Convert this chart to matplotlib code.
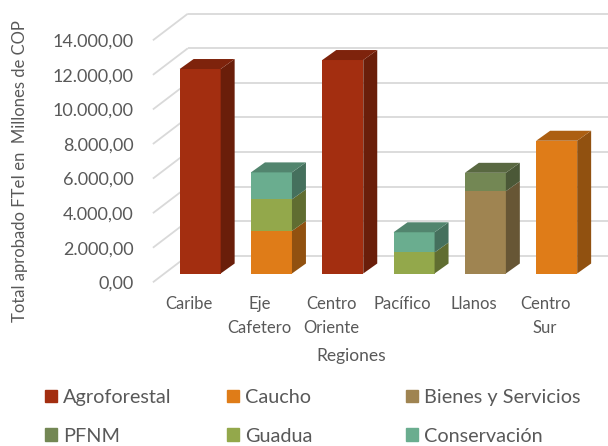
import matplotlib
matplotlib.use("Agg")
import matplotlib.pyplot as plt
from matplotlib.patches import Polygon, Patch
from matplotlib.colors import to_rgb

plt.rcParams["font.family"] = ["Lato", "DejaVu Sans"]

# datos (millones de COP)
regiones = ["Caribe", "Eje\nCafetero", "Centro\nOriente", "Pacífico", "Llanos", "Centro\nSur"]
series = ["Agroforestal", "Caucho", "Bienes y Servicios", "PFNM", "Guadua", "Conservación"]
agroforestal = [11830, 0, 12350, 0, 0, 0]
caucho       = [0, 2460, 0, 0, 0, 7680]
bienes       = [0, 0, 0, 0, 4760, 0]
pfnm         = [0, 0, 0, 0, 1065, 0]
guadua       = [0, 1830, 0, 1215, 0, 0]
conservacion = [0, 1560, 0, 1170, 0, 0]
y_ticks = [0, 2000, 4000, 6000, 8000, 10000, 12000, 14000]

valores = [agroforestal, caucho, bienes, pfnm, guadua, conservacion]
colores = ["#A32E10", "#DF7C18", "#9F8451", "#738754", "#93A84B", "#6AAD8F"]
TXT = "#595959"
GRID = "#D9D9D9"

# geometría pseudo-3D (unidades de datos)
DX, DY = 0.49, 1539       # profundidad total del suelo
FX, FY = 0.163, 509       # desplazamiento del frente de la barra
BX, BY = 0.196, 578       # profundidad de la barra
W = 0.575


def shade(c, f):
    r, g, b = to_rgb(c)
    return (r * f, g * f, b * f)


fig = plt.figure(figsize=(6.08, 4.46), dpi=100)
ax = fig.add_axes([152.9 / 608, 163.7 / 446, 427.8 / 608, 242 / 446])
ax.set_xlim(-0.5, 5.5)
ax.set_ylim(0, 14000)
for s in ax.spines.values():
    s.set_visible(False)

# rejilla: pared del fondo + diagonales laterales
for v in y_ticks:
    ax.plot([-0.5, -0.5 + DX], [v, v + DY], color=GRID, lw=1.3,
            clip_on=False, zorder=1, solid_capstyle="butt")
    ax.plot([-0.5 + DX, 5.5 + DX + 0.5], [v + DY, v + DY], color=GRID, lw=1.3,
            clip_on=False, zorder=1, solid_capstyle="butt")

# barras apiladas
for i in range(len(regiones)):
    base = 0
    segs = [(vals[i], col) for vals, col in zip(valores, colores) if vals[i] > 0]
    for k, (v, col) in enumerate(segs):
        x0 = i - W / 2 + FX
        y0 = base + FY
        ax.bar(x0, v, width=W, bottom=y0, align="edge", color=col,
               zorder=3, clip_on=False, lw=0)
        xr = x0 + W
        side = [(xr, y0), (xr + BX, y0 + BY), (xr + BX, y0 + v + BY), (xr, y0 + v)]
        ax.add_patch(Polygon(side, closed=True, fc=shade(col, 0.65), lw=0,
                             zorder=3, clip_on=False))
        if k == len(segs) - 1:
            yt = y0 + v
            top = [(x0, yt), (xr, yt), (xr + BX, yt + BY), (x0 + BX, yt + BY)]
            ax.add_patch(Polygon(top, closed=True, fc=shade(col, 0.77), lw=0,
                                 zorder=3, clip_on=False))
        base += v

# ejes
ax.set_yticks(y_ticks)
ax.set_yticklabels([f"{v:,.2f}".replace(",", "X").replace(".", ",").replace("X", ".")
                    for v in y_ticks])
ax.set_xticks(range(len(regiones)))
ax.set_xticklabels(regiones, linespacing=1.6)
ax.tick_params(axis="y", length=0, pad=14, labelsize=13, labelcolor=TXT)
ax.tick_params(axis="x", length=0, pad=10, labelsize=12, labelcolor=TXT)

ax.set_ylabel("Total aprobado FTeI en  Millones de COP", fontsize=12, color=TXT)
ax.yaxis.set_label_coords(-0.292, 0.46)
ax.set_xlabel("Regiones", fontsize=12.5, color=TXT)
ax.xaxis.set_label_coords(0.463, -0.272)

# leyenda en tres columnas
cols = [(0, 3), (1, 4), (2, 5)]
xs = [45, 227, 406]
for (a, b), xp in zip(cols, xs):
    hs = [Patch(color=colores[a]), Patch(color=colores[b])]
    fig.legend(hs, [series[a], series[b]], loc="upper left",
               bbox_to_anchor=(xp / 608, 1 - 389 / 446), frameon=False,
               fontsize=14.3, labelcolor=TXT, handlelength=0.62, handleheight=0.62,
               handletextpad=0.3, borderpad=0, borderaxespad=0, labelspacing=1.1)

fig.savefig("out.png", dpi=100)
